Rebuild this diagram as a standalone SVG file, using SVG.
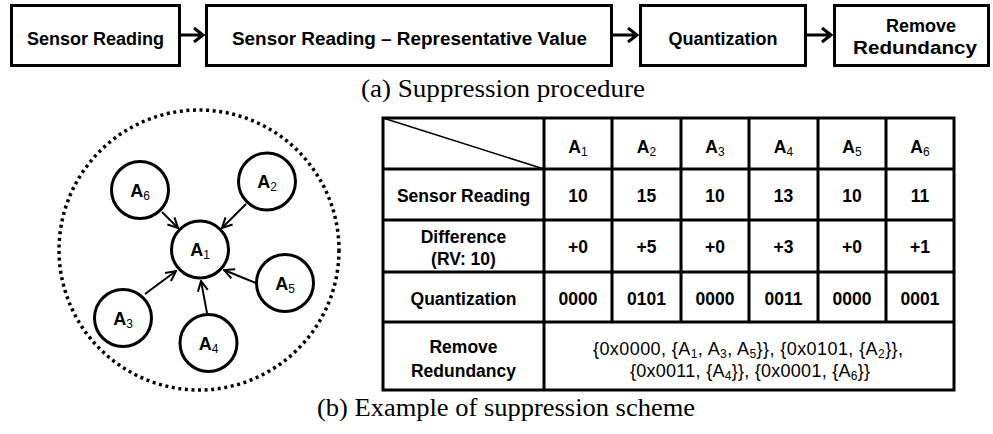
<svg xmlns="http://www.w3.org/2000/svg" width="993" height="434" viewBox="0 0 993 434">
<style>
.box{fill:#fff;stroke:#000;stroke-width:3}
.t{font-family:"Liberation Sans",Arial,sans-serif;font-weight:bold;font-size:18px;text-anchor:middle;fill:#000}
.tb{font-family:"Liberation Sans",Arial,sans-serif;font-weight:bold;font-size:17.5px;text-anchor:middle;fill:#000}
.tr{font-family:"Liberation Sans",Arial,sans-serif;font-size:18px;text-anchor:middle;fill:#000}
.sub{font-size:12px;font-weight:normal}
.cap{font-family:"Liberation Serif","Times New Roman",serif;font-size:25px;fill:#000}
.conn{stroke:#000;stroke-width:3;fill:none}
.edge{stroke:#000;stroke-width:2;fill:none}
.node{fill:#fff;stroke:#000;stroke-width:3}
.grid{stroke:#000;stroke-width:3;fill:none}
</style>
<defs>
<marker id="ah" viewBox="0 0 12 12" refX="11" refY="6" markerWidth="12" markerHeight="12" markerUnits="userSpaceOnUse" orient="auto">
<path d="M1,1 L11,6 L1,11" fill="none" stroke="#000" stroke-width="2"/>
</marker>
</defs>
<rect width="993" height="434" fill="#fff"/>

<g id="step1"><rect class="box" x="11.5" y="5.5" width="168" height="60"/><text class="t" x="95.5" y="45">Sensor Reading</text></g>
<g id="step2"><rect class="box" x="206.5" y="5.5" width="405" height="60"/><text class="t" x="409.5" y="45" textLength="355" lengthAdjust="spacingAndGlyphs">Sensor Reading – Representative Value</text></g>
<g id="step3"><rect class="box" x="640.5" y="5.5" width="165" height="60"/><text class="t" x="723" y="45">Quantization</text></g>
<g id="step4"><rect class="box" x="834.5" y="5.5" width="154" height="60"/><text class="t" x="921" y="32">Remove</text><text class="t" x="915" y="54" textLength="124" lengthAdjust="spacingAndGlyphs">Redundancy</text></g>

<g id="flow-connectors">
<path class="conn" d="M181,35 H203 M194,28 L203,35 L194,42"/>
<path class="conn" d="M613,35 H637 M628,28 L637,35 L628,42"/>
<path class="conn" d="M807,35 H831 M822,28 L831,35 L822,42"/>
</g>

<text class="cap" x="361" y="97" textLength="284" lengthAdjust="spacingAndGlyphs">(a) Suppression procedure</text>

<g id="cluster"><circle cx="199" cy="250" r="140" fill="none" stroke="#000" stroke-width="3.5" stroke-dasharray="3 3.6"/></g>

<g id="edges">
<line class="edge" x1="162" y1="212" x2="178" y2="228" marker-end="url(#ah)"/>
<line class="edge" x1="246" y1="204" x2="222" y2="228" marker-end="url(#ah)"/>
<line class="edge" x1="256" y1="283" x2="224" y2="270" marker-end="url(#ah)"/>
<line class="edge" x1="207" y1="313" x2="201" y2="281" marker-end="url(#ah)"/>
<line class="edge" x1="145" y1="294" x2="176" y2="271" marker-end="url(#ah)"/>
</g>

<g id="A1"><circle class="node" cx="200" cy="249.5" r="28.5"/><text class="t" x="200" y="256">A<tspan class="sub" dy="3">1</tspan></text></g>
<g id="A2"><circle class="node" cx="267" cy="181.5" r="28.5"/><text class="t" x="267" y="188">A<tspan class="sub" dy="3">2</tspan></text></g>
<g id="A3"><circle class="node" cx="123" cy="318" r="28.5"/><text class="t" x="123" y="324.5">A<tspan class="sub" dy="3">3</tspan></text></g>
<g id="A4"><circle class="node" cx="208.5" cy="343" r="28.5"/><text class="t" x="208.5" y="349.5">A<tspan class="sub" dy="3">4</tspan></text></g>
<g id="A5"><circle class="node" cx="285" cy="283" r="28.5"/><text class="t" x="285" y="289.5">A<tspan class="sub" dy="3">5</tspan></text></g>
<g id="A6"><circle class="node" cx="140" cy="190" r="28.5"/><text class="t" x="140" y="196.5">A<tspan class="sub" dy="3">6</tspan></text></g>

<g id="table">
<rect class="grid" x="383" y="118" width="571" height="272"/>
<path class="grid" d="M383,169 H954 M383,220 H954 M383,272 H954 M383,322 H954 M544,118 V390 M612,118 V322 M681,118 V322 M749,118 V322 M818,118 V322 M886,118 V322"/>
<line x1="383" y1="118" x2="544" y2="169" stroke="#000" stroke-width="1.5"/>
<g class="tb">
<text x="578" y="153">A<tspan class="sub" dy="3">1</tspan></text>
<text x="646.5" y="153">A<tspan class="sub" dy="3">2</tspan></text>
<text x="715" y="153">A<tspan class="sub" dy="3">3</tspan></text>
<text x="783.5" y="153">A<tspan class="sub" dy="3">4</tspan></text>
<text x="852" y="153">A<tspan class="sub" dy="3">5</tspan></text>
<text x="920" y="153">A<tspan class="sub" dy="3">6</tspan></text>
<text x="463.5" y="202">Sensor Reading</text>
<text x="578" y="202">10</text><text x="646.5" y="202">15</text><text x="715" y="202">10</text><text x="783.5" y="202">13</text><text x="852" y="202">10</text><text x="920" y="202">11</text>
<text x="463.5" y="243">Difference</text><text x="463.5" y="265">(RV: 10)</text>
<text x="578" y="253">+0</text><text x="646.5" y="253">+5</text><text x="715" y="253">+0</text><text x="783.5" y="253">+3</text><text x="852" y="253">+0</text><text x="920" y="253">+1</text>
<text x="463.5" y="305">Quantization</text>
<text x="578" y="305">0000</text><text x="646.5" y="305">0101</text><text x="715" y="305">0000</text><text x="783.5" y="305">0011</text><text x="852" y="305">0000</text><text x="920" y="305">0001</text>
<text x="463.5" y="353">Remove</text><text x="463.5" y="377">Redundancy</text>
</g>
<g class="tr">
<text x="593" y="355" text-anchor="start" textLength="310">{0x0000, {A<tspan class="sub" dy="3">1</tspan><tspan dy="-3">, A</tspan><tspan class="sub" dy="3">3</tspan><tspan dy="-3">, A</tspan><tspan class="sub" dy="3">5</tspan><tspan dy="-3">}}, {0x0101, {A</tspan><tspan class="sub" dy="3">2</tspan><tspan dy="-3">}},</tspan></text>
<text x="630" y="377" text-anchor="start" textLength="240">{0x0011, {A<tspan class="sub" dy="3">4</tspan><tspan dy="-3">}}, {0x0001, {A</tspan><tspan class="sub" dy="3">6</tspan><tspan dy="-3">}}</tspan></text>
</g>
</g>

<text class="cap" x="317" y="416" textLength="378" lengthAdjust="spacingAndGlyphs">(b) Example of suppression scheme</text>
</svg>
